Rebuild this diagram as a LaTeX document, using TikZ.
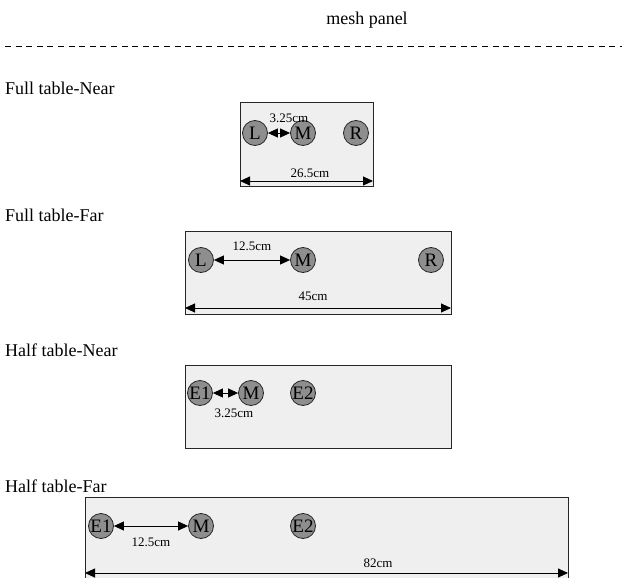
\documentclass[tikz,border=0pt]{standalone}
\usepackage{fontspec}
\setmainfont{Liberation Serif}
\usetikzlibrary{arrows.meta}
\definecolor{panelgray}{HTML}{EEEFEE}
\definecolor{dotgray}{HTML}{8E8E8E}
\tikzset{
  panel/.style={draw=black!85, line width=0.9pt, fill=panelgray, rectangle, inner sep=0pt},
  spot/.style={circle, draw=black!85, line width=0.8pt, fill=dotgray, minimum size=25pt, inner sep=0pt, font=\fontsize{19}{19}\selectfont},
  heading/.style={anchor=west, font=\fontsize{18}{18}\selectfont, inner sep=0pt},
  dimlbl/.style={font=\fontsize{13}{13}\selectfont, inner sep=0pt},
  dimarrow/.style={line width=0.9pt, {Triangle[length=10pt,width=9pt]}-{Triangle[length=10pt,width=9pt]}},
}
\begin{document}
\begin{tikzpicture}[x=1pt,y=-1pt]
\useasboundingbox (0,0) rectangle (627,578);
\node[font=\fontsize{18}{18}\selectfont] (title) at (367,20) {mesh panel};
\coordinate (dl) at (5,46);
\coordinate (dr) at (622,46);
\draw[dash pattern=on 6pt off 4.6pt, line width=0.6pt] (dl) -- (dr);

% Full table-Near
\node[heading] (h1) at (5,88) {Full table-Near};
\node[panel, minimum width=133pt, minimum height=84pt] (p1) at (306.5,144.5) {};
\node[spot] (L1) at (255,133) {L};
\node[spot] (M1) at (303,133) {M};
\node[spot] (R1) at (356,133) {R};
\draw[dimarrow] (L1) -- (M1);
\node[dimlbl] (t1) at (289,118) {3.25cm};
\coordinate (a1) at (240,181);
\coordinate (b1) at (373,181);
\draw[dimarrow] (a1) -- (b1);
\node[dimlbl] (u1) at (310,173) {26.5cm};

% Full table-Far
\node[heading] (h2) at (5,215) {Full table-Far};
\node[panel, minimum width=266pt, minimum height=83pt] (p2) at (318,272.5) {};
\node[spot] (L2) at (201,260) {L};
\node[spot] (M2) at (303,260) {M};
\node[spot] (R2) at (431,260) {R};
\draw[dimarrow] (L2) -- (M2);
\node[dimlbl] (t2) at (252,246) {12.5cm};
\coordinate (a2) at (185,308);
\coordinate (b2) at (451,308);
\draw[dimarrow] (a2) -- (b2);
\node[dimlbl] (u2) at (313,296) {45cm};

% Half table-Near
\node[heading] (h3) at (5,350) {Half table-Near};
\node[panel, minimum width=266pt, minimum height=83pt] (p3) at (318,406.5) {};
\node[spot] (E13) at (200,393) {E1};
\node[spot] (M3) at (251,393) {M};
\node[spot] (E23) at (303,393) {E2};
\draw[dimarrow] (E13) -- (M3);
\node[dimlbl] (t3) at (234,413) {3.25cm};

% Half table-Far
\node[heading] (h4) at (5,486) {Half table-Far};
\node[panel, minimum width=483pt, minimum height=82pt] (p4) at (326.5,538) {};
\node[spot] (E14) at (101,526) {E1};
\node[spot] (M4) at (201,526) {M};
\node[spot] (E24) at (303,526) {E2};
\draw[dimarrow] (E14) -- (M4);
\node[dimlbl] (t4) at (151,542) {12.5cm};
\coordinate (a4) at (85,573);
\coordinate (b4) at (568,573);
\draw[dimarrow] (a4) -- (b4);
\node[dimlbl] (u4) at (378,563) {82cm};
\end{tikzpicture}
\end{document}
